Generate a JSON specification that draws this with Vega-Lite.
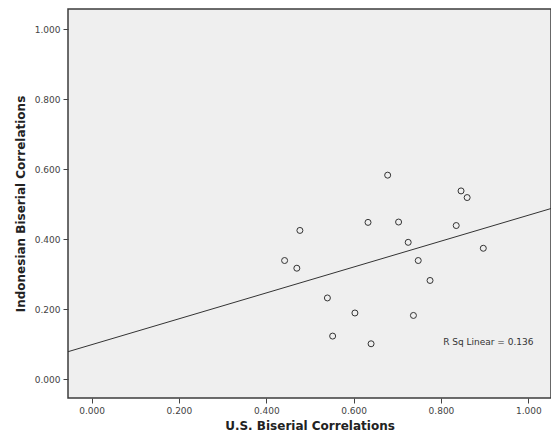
{
  "$schema": "https://vega.github.io/schema/vega-lite/v6.json",
  "width": 483,
  "height": 389,
  "autosize": {"type": "none"},
  "padding": {"left": 68, "top": 9, "right": 0, "bottom": 41},
  "background": "white",
  "config": {
    "view": {"fill": "#efefef", "stroke": "#3c3c3c", "strokeWidth": 1.5},
    "axis": {
      "grid": false,
      "domain": false,
      "tickColor": "#444444",
      "tickSize": 5,
      "tickWidth": 1,
      "labelFont": "DejaVu Sans",
      "labelFontSize": 9,
      "labelColor": "#444444",
      "labelPadding": 3,
      "titleFont": "DejaVu Sans",
      "titleFontSize": 12,
      "titleFontWeight": "bold",
      "titleColor": "#222222"
    }
  },
  "data": {
    "values": [
      {"us": 0.678, "indonesian": 0.583},
      {"us": 0.846, "indonesian": 0.538},
      {"us": 0.860, "indonesian": 0.519},
      {"us": 0.633, "indonesian": 0.448},
      {"us": 0.703, "indonesian": 0.449},
      {"us": 0.835, "indonesian": 0.439},
      {"us": 0.477, "indonesian": 0.425},
      {"us": 0.725, "indonesian": 0.391},
      {"us": 0.897, "indonesian": 0.374},
      {"us": 0.442, "indonesian": 0.339},
      {"us": 0.470, "indonesian": 0.317},
      {"us": 0.748, "indonesian": 0.339},
      {"us": 0.775, "indonesian": 0.282},
      {"us": 0.540, "indonesian": 0.232},
      {"us": 0.603, "indonesian": 0.189},
      {"us": 0.737, "indonesian": 0.182},
      {"us": 0.552, "indonesian": 0.123},
      {"us": 0.640, "indonesian": 0.101}
    ]
  },
  "encoding": {
    "x": {
      "field": "us",
      "type": "quantitative",
      "scale": {"domain": [-0.054, 1.052], "nice": false, "zero": false},
      "axis": {"values": [0, 0.2, 0.4, 0.6, 0.8, 1.0], "format": ".3f", "title": "U.S. Biserial Correlations", "titlePadding": 5}
    },
    "y": {
      "field": "indonesian",
      "type": "quantitative",
      "scale": {"domain": [-0.054, 1.058], "nice": false, "zero": false},
      "axis": {"values": [0, 0.2, 0.4, 0.6, 0.8, 1.0], "format": ".3f", "title": "Indonesian Biserial Correlations", "titlePadding": 7}
    }
  },
  "layer": [
    {
      "mark": {"type": "point", "shape": "circle", "filled": false, "stroke": "#333333", "strokeWidth": 1, "size": 36, "opacity": 1}
    },
    {
      "transform": [{"regression": "indonesian", "on": "us", "extent": [-0.054, 1.052]}],
      "mark": {"type": "line", "color": "#333333", "strokeWidth": 1, "clip": true}
    },
    {
      "data": {"values": [{"us": 0.805, "indonesian": 0.106, "label": "R Sq Linear = 0.136"}]},
      "mark": {"type": "text", "align": "left", "baseline": "middle", "font": "DejaVu Sans", "fontSize": 9, "color": "#333333"},
      "encoding": {"text": {"field": "label"}}
    }
  ]
}
